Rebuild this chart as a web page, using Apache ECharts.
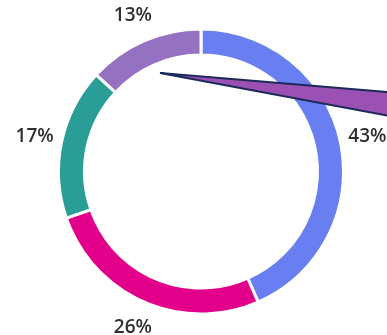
<!DOCTYPE html>
<html>
<head>
<meta charset="utf-8">
<script src="https://cdn.jsdelivr.net/npm/echarts@6/dist/echarts.min.js"></script>
<style>
  html, body { margin: 0; padding: 0; background: #fff; }
  #chart { width: 387px; height: 335px; }
</style>
</head>
<body>
<div id="chart"></div>
<script>
// Share of each segment, clockwise from the top
const segmentNames = ['A', 'B', 'C', 'D'];
const segmentValues = [43, 26, 17, 13];
const segmentLabels = ['43%', '26%', '17%', '13%'];
const segmentColors = ['#687ef1', '#e2008a', '#2a9d97', '#9571c1'];

const ringData = segmentValues.map((v, i) => ({
  name: segmentNames[i],
  value: v,
  itemStyle: { color: segmentColors[i] }
}));

const labelData = segmentValues.map((v, i) => ({
  name: segmentNames[i],
  value: v,
  label: { formatter: segmentLabels[i] }
}));

const chart = echarts.init(document.getElementById('chart'), null, { renderer: 'canvas' });

chart.setOption({
  animation: false,
  backgroundColor: '#ffffff',
  series: [
    {
      type: 'pie',
      center: [201, 171.5],
      radius: [116.5, 142.5],
      startAngle: 90,
      clockwise: true,
      silent: true,
      label: { show: false },
      labelLine: { show: false },
      itemStyle: { borderColor: '#ffffff', borderWidth: 3 },
      data: ringData
    },
    {
      // invisible ring that carries the percentage labels just outside the donut
      type: 'pie',
      center: [201, 171.5],
      radius: [161, 173],
      startAngle: 90,
      clockwise: true,
      silent: true,
      itemStyle: { color: 'rgba(0,0,0,0)' },
      label: {
        show: true,
        position: 'inside',
        color: '#2f2f2f',
        fontFamily: '"Open Sans", "Noto Sans", sans-serif',
        fontWeight: 600,
        fontSize: 19
      },
      labelLine: { show: false },
      data: labelData
    }
  ],
  graphic: [
    {
      // callout pointer
      type: 'polygon',
      z: 100,
      shape: { points: [[160, 73], [400, 93], [400, 118]] },
      style: { fill: '#9b50b3', stroke: '#1b2a58', lineWidth: 2 }
    }
  ]
});
</script>
</body>
</html>
